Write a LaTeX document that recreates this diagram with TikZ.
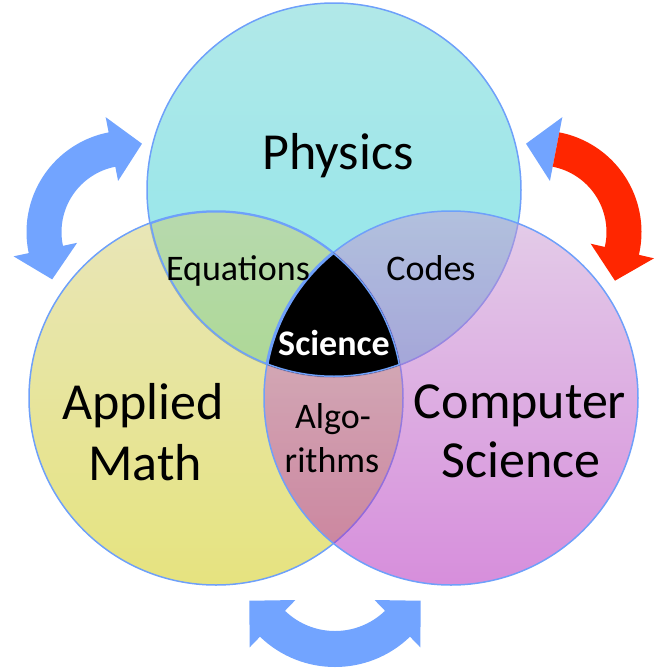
\documentclass[tikz,border=0pt]{standalone}
\usepackage{fontspec}
\setmainfont{Carlito}
\definecolor{physT}{RGB}{100,210,210}
\definecolor{physB}{RGB}{25,205,215}
\definecolor{amT}{RGB}{210,205,115}
\definecolor{amB}{RGB}{205,200,0}
\definecolor{csT}{RGB}{200,155,210}
\definecolor{csB}{RGB}{175,30,185}
\definecolor{edge}{RGB}{110,160,250}
\definecolor{arrblue}{RGB}{114,164,255}
\definecolor{arrred}{RGB}{255,38,0}
\tikzset{
  ring/.style={draw=edge, line width=1.5pt},
  big/.style={font=\fontsize{52}{62}\selectfont, anchor=base, inner sep=0pt},
  small/.style={font=\fontsize{36}{43}\selectfont, anchor=base, inner sep=0pt},
}
\begin{document}
\begin{tikzpicture}[x=1pt,y=1pt]
\useasboundingbox (0,0) rectangle (654,-670);
\coordinate (cP) at (334,-190);
\coordinate (cA) at (216,-398);
\coordinate (cC) at (451,-398);
% circles
\shade[top color=physT, bottom color=physB, fill opacity=0.5] (cP) circle[radius=187];
\draw[ring] (cP) circle[radius=187];
\shade[top color=amT, bottom color=amB, fill opacity=0.5] (cA) circle[radius=187];
\draw[ring] (cA) circle[radius=187];
\shade[top color=csT, bottom color=csB, fill opacity=0.5] (cC) circle[radius=187];
\draw[ring] (cC) circle[radius=187];
% central region
\begin{scope}
  \clip (cP) circle[radius=187];
  \clip (cA) circle[radius=187];
  \fill[black] (cC) circle[radius=187];
  \draw[edge, line width=3pt] (cP) circle[radius=187] (cA) circle[radius=187] (cC) circle[radius=187];
\end{scope}
% left arrow
\fill[arrblue, shift={(128,-232)}] (101:117) -- (81:89.4) -- (101:52) -- (101:66.5)
  arc[start angle=101, end angle=192, radius=66.5] -- (192:52) -- (212:89.4) -- (192:117)
  -- (192:101.5) arc[start angle=192, end angle=101, radius=101.5] -- cycle;
% right arrow
\fill[arrblue, shift={(540,-232)}] (79:117) -- (99:89.4) -- (79:52) -- cycle;
\fill[arrred, shift={(540,-232)}] (79:66.5) arc[start angle=79, end angle=-13, radius=66.5]
  -- (-13:52) -- (-33:89.4) -- (-13:117) -- (-13:101.5)
  arc[start angle=-13, end angle=79, radius=101.5] -- cycle;
% bottom arrow
\fill[arrblue, shift={(335,-559)}] (-134:123) -- (-154:95.2) -- (-134:57) -- (-134:72)
  arc[start angle=-134, end angle=-46, radius=72] -- (-46:57) -- (-26:95.2) -- (-46:123)
  -- (-46:108) arc[start angle=-46, end angle=-134, radius=108] -- cycle;
% labels
\node[big] (phys) at (338,-169) {Physics};
\node[big] (am1) at (143,-419) {Applied};
\node[big] (am2) at (145,-480) {Math};
\node[big] (cs1) at (520,-418) {Computer};
\node[big] (cs2) at (521,-477) {Science};
\node[small] (eq) at (238,-280) {Equations};
\node[small] (cod) at (431,-280) {Codes};
\node[small] (alg1) at (333,-428) {Algo-};
\node[small] (alg2) at (332,-472) {rithms};
\node[small, text=white, font=\fontsize{36}{43}\selectfont\bfseries] (sci) at (334,-355) {Science};
\end{tikzpicture}
\end{document}
